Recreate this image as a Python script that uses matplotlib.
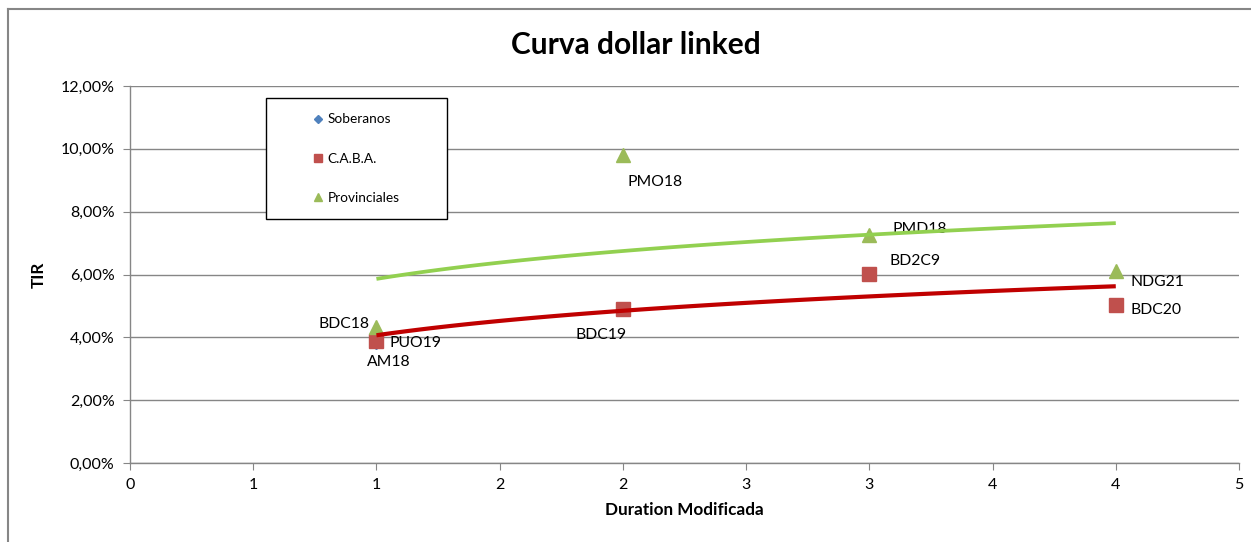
import numpy as np
import matplotlib
matplotlib.use('Agg')
from matplotlib import pyplot as plt
from matplotlib.ticker import FuncFormatter, MultipleLocator
from matplotlib.patches import Rectangle
from matplotlib.lines import Line2D

plt.rcParams['font.family'] = ['Lato', 'DejaVu Sans']

# data (duration, TIR in %)
sob_x = [1]
sob_y = [3.85]
sob_names = ['AM18']

caba_x = [1, 2, 3, 4]
caba_y = [3.89, 4.90, 6.02, 5.03]
caba_names = ['PUO19', 'BDC19', 'BD2C9', 'BDC20']

prov_x = [1, 2, 3, 4]
prov_y = [4.33, 9.81, 7.26, 6.11]
prov_names = ['BDC18', 'PMO18', 'PMD18', 'NDG21']

# label offsets in points (dx, dy, ha)
sob_off = [(8.6, -14.4, 'center')]
caba_off = [(9.4, -1.4, 'left'), (-15.8, -18.7, 'center'), (14.4, 9.4, 'left'), (10.8, -3.6, 'left')]
prov_off = [(-5, 2, 'right'), (3.6, -19.4, 'left'), (17, 4.3, 'left'), (10.8, -8, 'left')]

c_sob = '#4F81BD'
c_caba = '#C0504D'
c_prov = '#9BBB59'
gray = '#868686'

fig = plt.figure(figsize=(12.51, 5.42), dpi=100)
ax = fig.add_axes([130/1251, 79/542, 1109/1251, 377/542])

ax.yaxis.grid(True, color=gray, lw=1)
ax.set_axisbelow(True)

# log trendlines like excel
def log_fit(x, y):
    p = np.polyfit(np.log(x), y, 1)
    xx = np.linspace(min(x), max(x), 100)
    return xx, p[0]*np.log(xx) + p[1]

xx, yy = log_fit(caba_x, caba_y)
ax.plot(xx, yy, color='#C00000', lw=3.0, zorder=4, solid_capstyle='butt')
xx, yy = log_fit(prov_x, prov_y)
ax.plot(xx, yy, color='#92D050', lw=2.7, zorder=4, solid_capstyle='butt')

ax.plot(sob_x, sob_y, 'D', color=c_sob, ms=7, ls='none', zorder=3, label='Soberanos')
ax.plot(caba_x, caba_y, 's', color=c_caba, ms=10, ls='none', zorder=3, label='C.A.B.A.')
ax.plot(prov_x, prov_y, '^', color=c_prov, ms=10, ls='none', zorder=3, label='Provinciales')

# labels sit under the trendlines, as in excel
for xs, ys, names, offs in [(sob_x, sob_y, sob_names, sob_off),
                            (caba_x, caba_y, caba_names, caba_off),
                            (prov_x, prov_y, prov_names, prov_off)]:
    for x, y, n, (dx, dy, ha) in zip(xs, ys, names, offs):
        ax.annotate(n, (x, y), xytext=(dx, dy), textcoords='offset points',
                    ha=ha, va='center', fontsize=11.3, color='black', zorder=3.5)

ax.set_xlim(0, 4.5)
ax.set_ylim(0, 12)
ax.xaxis.set_major_locator(MultipleLocator(0.5))
ax.yaxis.set_major_locator(MultipleLocator(2))
ax.xaxis.set_major_formatter(FuncFormatter(lambda v, p: f'{int(np.floor(v + 0.5))}'))
ax.yaxis.set_major_formatter(FuncFormatter(lambda v, p: f'{v:.2f}'.replace('.', ',') + '%'))
ax.tick_params(axis='both', colors=gray, labelcolor='black', labelsize=11.5, length=5, direction='out')
ax.tick_params(axis='x', pad=6)
ax.tick_params(axis='y', pad=6)

for s in ['top', 'right']:
    ax.spines[s].set_visible(False)
for s in ['left', 'bottom']:
    ax.spines[s].set_color(gray)
    ax.spines[s].set_linewidth(1)

ax.set_xlabel('Duration Modificada', fontsize=12.3, fontweight='bold', labelpad=7)
ax.set_ylabel('TIR', fontsize=12.3, fontweight='bold', labelpad=10)
fig.text(636/1251, 1 - 45/542, 'Curva dollar linked', fontsize=21.5, fontweight='bold',
         ha='center', va='center')

# legend box
ax.add_patch(Rectangle((0.1226, 0.647), 0.1632, 0.321, transform=ax.transAxes,
                       facecolor='white', edgecolor='black', lw=1, zorder=6))
leg = ax.legend(loc='center', bbox_to_anchor=(0.2042, 0.8075), frameon=False,
                fontsize=9.8, labelspacing=2.0, handlelength=0.7, handletextpad=0.3,
                markerscale=0.55)
leg.set_zorder(7)

# outer chart border (partly visible)
fig.add_artist(Line2D([8/1251, 1], [1 - 9/542, 1 - 9/542], color=gray, lw=1.5))
fig.add_artist(Line2D([8/1251, 8/1251], [0, 1 - 9/542], color=gray, lw=1.5))

fig.savefig('out.png', dpi=100)
